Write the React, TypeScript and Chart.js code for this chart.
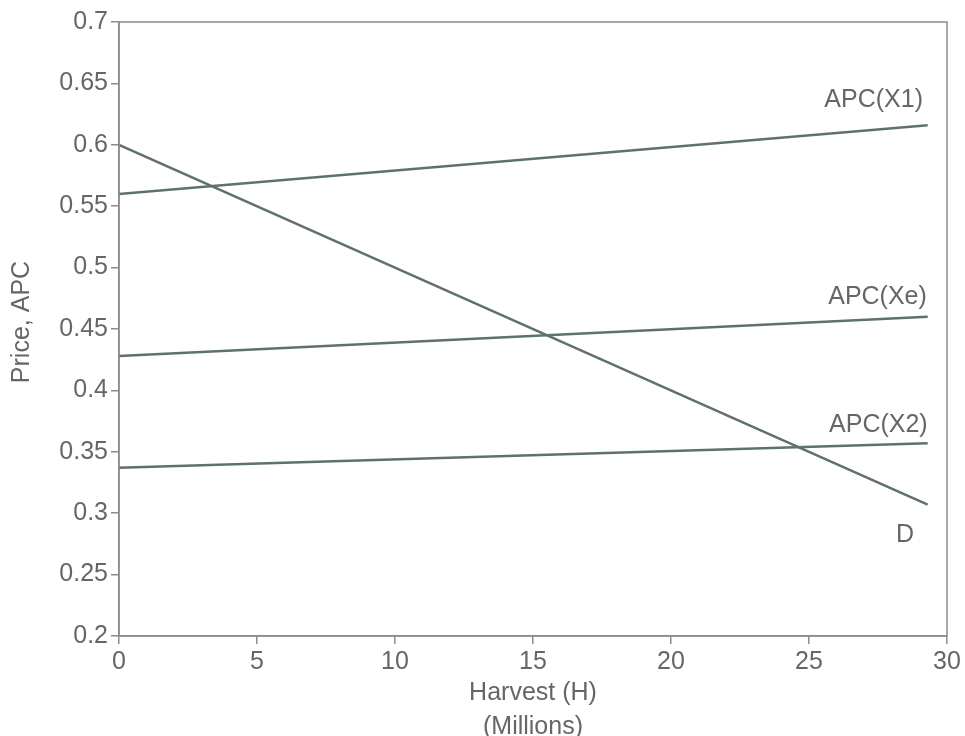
import React, { useEffect, useRef } from "react";
import { Chart, registerables } from "chart.js";

Chart.register(...registerables);

// Data (x in millions harvested, y price / APC)
const xStart = 0;
const xEnd = 29.3;
const apcX1 = [0.56, 0.616];
const apcXe = [0.428, 0.46];
const apcX2 = [0.337, 0.357];
const demandD = [0.6, 0.307];

const seriesNames = ["APC(X1)", "APC(Xe)", "APC(X2)", "D"];
// label anchor positions in data units: [x, y]
const labelX = [29.13, 29.27, 29.3, 28.48];
const labelY = [0.636, 0.476, 0.372, 0.282];
const labelAlign: CanvasTextAlign[] = ["right", "right", "right", "center"];

const xTitleLines = ["Harvest (H)", "(Millions)"];
const yTitle = "Price, APC";

const LINE_COLOR = "#5e716d";
const TEXT_COLOR = "#666666";
const AXIS_COLOR = "#8c8c8c";
const FONT = "'Liberation Sans', Arial, sans-serif";

export default function App() {
  const ref = useRef<HTMLCanvasElement | null>(null);

  useEffect(() => {
    if (!ref.current) return;
    const mk = (vals: number[]) => [
      { x: xStart, y: vals[0] },
      { x: xEnd, y: vals[1] },
    ];
    const allSeries = [apcX1, apcXe, apcX2, demandD];

    const framePlugin = {
      id: "frameAndLabels",
      afterDraw(chart: any) {
        const { ctx, chartArea, scales } = chart;
        ctx.save();
        ctx.strokeStyle = AXIS_COLOR;
        ctx.lineWidth = 1.5;
        ctx.strokeRect(
          chartArea.left,
          chartArea.top,
          chartArea.right - chartArea.left,
          chartArea.bottom - chartArea.top
        );
        ctx.fillStyle = TEXT_COLOR;
        ctx.font = `25px ${FONT}`;
        ctx.textBaseline = "middle";
        for (let i = 0; i < seriesNames.length; i++) {
          ctx.textAlign = labelAlign[i];
          ctx.fillText(
            seriesNames[i],
            scales.x.getPixelForValue(labelX[i]),
            scales.y.getPixelForValue(labelY[i])
          );
        }
        // axis titles
        const cx = (chartArea.left + chartArea.right) / 2;
        ctx.font = `25px ${FONT}`;
        ctx.textAlign = "center";
        ctx.fillText(xTitleLines[0], cx, 693);
        ctx.fillText(xTitleLines[1], cx, 727);
        ctx.translate(22, 322);
        ctx.rotate(-Math.PI / 2);
        ctx.fillText(yTitle, 0, 0);
        ctx.restore();
      },
    };

    const chart = new Chart(ref.current, {
      type: "scatter",
      data: {
        datasets: allSeries.map((s, i) => ({
          label: seriesNames[i],
          data: mk(s),
          showLine: true,
          borderColor: LINE_COLOR,
          borderWidth: 2.5,
          pointRadius: 0,
          fill: false,
        })),
      },
      options: {
        animation: false,
        responsive: true,
        maintainAspectRatio: false,
        layout: { padding: { top: 22, right: 18, left: 0, bottom: 0 } },
        plugins: {
          legend: { display: false },
          tooltip: { enabled: false },
        },
        scales: {
          x: {
            type: "linear",
            min: 0,
            max: 30,
            ticks: {
              stepSize: 5,
              color: TEXT_COLOR,
              font: { size: 25, family: FONT },
              padding: 3,
            },
            grid: {
              drawOnChartArea: false,
              drawTicks: true,
              tickLength: 8,
              color: AXIS_COLOR,
              lineWidth: 1.5,
            },
            border: { display: true, color: AXIS_COLOR, width: 1.5 },
            afterFit(scale: any) {
              scale.height = 100;
            },
          },
          y: {
            type: "linear",
            min: 0.2,
            max: 0.7,
            ticks: {
              stepSize: 0.05,
              color: TEXT_COLOR,
              font: { size: 25, family: FONT },
              padding: 3,
              callback: (v: any) => String(Number(Number(v).toFixed(2))),
            },
            grid: {
              drawOnChartArea: false,
              drawTicks: true,
              tickLength: 8,
              color: AXIS_COLOR,
              lineWidth: 1.5,
            },
            border: { display: true, color: AXIS_COLOR, width: 1.5 },
            afterFit(scale: any) {
              scale.width = 119;
            },
          },
        },
      },
      plugins: [framePlugin],
    });
    return () => chart.destroy();
  }, []);

  return (
    <div
      style={{
        position: "absolute",
        left: 0,
        top: 0,
        width: 965,
        height: 736,
        background: "#ffffff",
      }}
    >
      <canvas ref={ref} />
    </div>
  );
}
